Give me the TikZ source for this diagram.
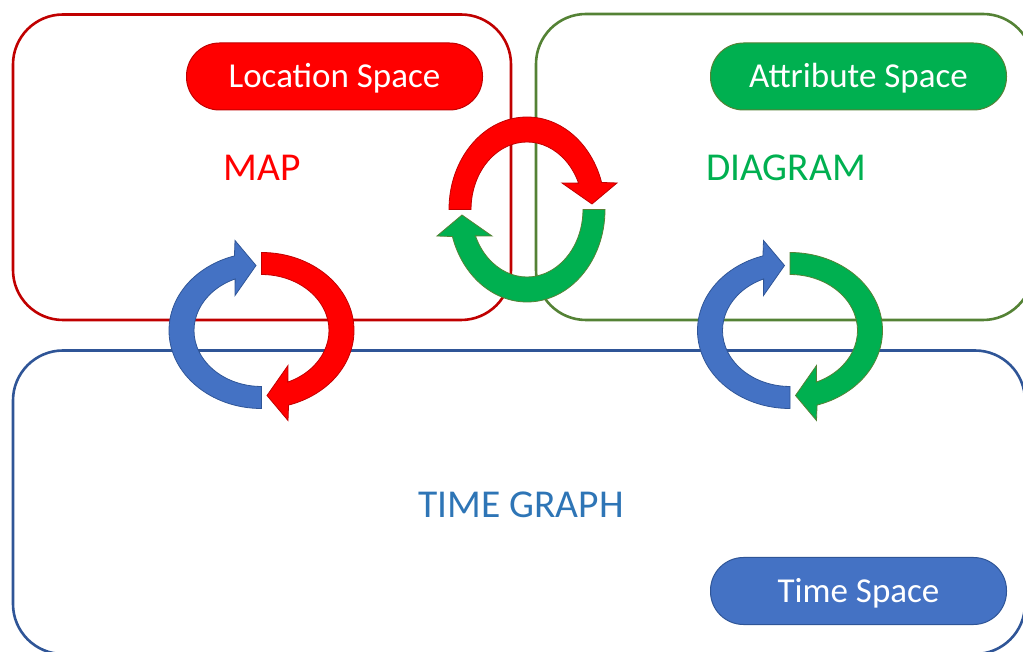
\documentclass[tikz,border=0pt]{standalone}
\usepackage{fontspec}
\setmainfont{Carlito}
\definecolor{mapRed}{HTML}{FF0000}
\definecolor{mapLine}{HTML}{C00000}
\definecolor{diaGreen}{HTML}{00B050}
\definecolor{diaLine}{HTML}{548235}
\definecolor{timeBlue}{HTML}{4472C4}
\definecolor{timeLine}{HTML}{2F5597}
\definecolor{timeText}{HTML}{2E75B6}
\begin{document}
\begin{tikzpicture}[x=1pt,y=1pt,
  panel/.style={draw, line width=2.6pt, rounded corners=50pt, inner sep=0pt},
  pill/.style={draw, line width=1pt, rounded corners=33pt, minimum width=296pt,
    minimum height=67pt, inner sep=0pt, text=white, text height=22.5pt, text depth=0pt,
    font=\fontsize{35}{42}\selectfont},
  heading/.style={font=\fontsize{39.5}{46}\selectfont, inner sep=0pt},
  arrowline/.style={line width=0.8pt},
  % half of a circular arrow: an elliptic band over the top ending in an arrowhead
  halfloop/.pic={
    \path[pic actions] (-78,0)
      arc[start angle=180, end angle=17, x radius=78, y radius=92.5]
      -- (90,26.5) -- (65,5.5) -- (35,26.5) -- (51.55,26.37)
      arc[start angle=23, end angle=180, x radius=56, y radius=67.5]
      -- cycle;
  }]
\clip (0,0) rectangle (1023,651);

% panels
\node[panel, draw=mapLine, minimum width=498pt, minimum height=305.5pt] (mapbox) at (262,483.75) {};
\node[panel, draw=diaLine, minimum width=497pt, minimum height=306pt] (diabox) at (784.5,484) {};
\node[panel, draw=timeLine, minimum width=1012pt, minimum height=303.5pt] (timebox) at (519,148.75) {};

% space labels
\node[pill, fill=mapRed, draw=mapLine] (locspace) at (334.5,574.5) {Location Space};
\node[pill, fill=diaGreen, draw=diaLine] (attrspace) at (858.5,574.5) {Attribute Space};
\node[pill, fill=timeBlue, draw=timeLine] (timespace) at (858.5,60) {Time Space};

% headings
\node[heading, text=mapRed] (map) at (262.5,483.3) {MAP};
\node[heading, text=diaGreen] (diagram) at (786,483) {DIAGRAM};
\node[heading, text=timeText] (timegraph) at (521,146.3) {TIME GRAPH};

% map <-> diagram
\pic (mdtop) [fill=mapRed, draw=mapLine, arrowline] at (527,441.5) {halfloop};
\pic (mdbot) [rotate=180, fill=diaGreen, draw=diaLine, arrowline] at (527,441.5) {halfloop};
% map <-> time graph
\pic (mtleft) [rotate=90, fill=timeBlue, draw=timeLine, arrowline] at (261.5,320.5) {halfloop};
\pic (mtright) [rotate=-90, fill=mapRed, draw=mapLine, arrowline] at (261.5,320.5) {halfloop};
% diagram <-> time graph
\pic (dtleft) [rotate=90, fill=timeBlue, draw=timeLine, arrowline] at (790,320.5) {halfloop};
\pic (dtright) [rotate=-90, fill=diaGreen, draw=diaLine, arrowline] at (790,320.5) {halfloop};
\end{tikzpicture}
\end{document}
